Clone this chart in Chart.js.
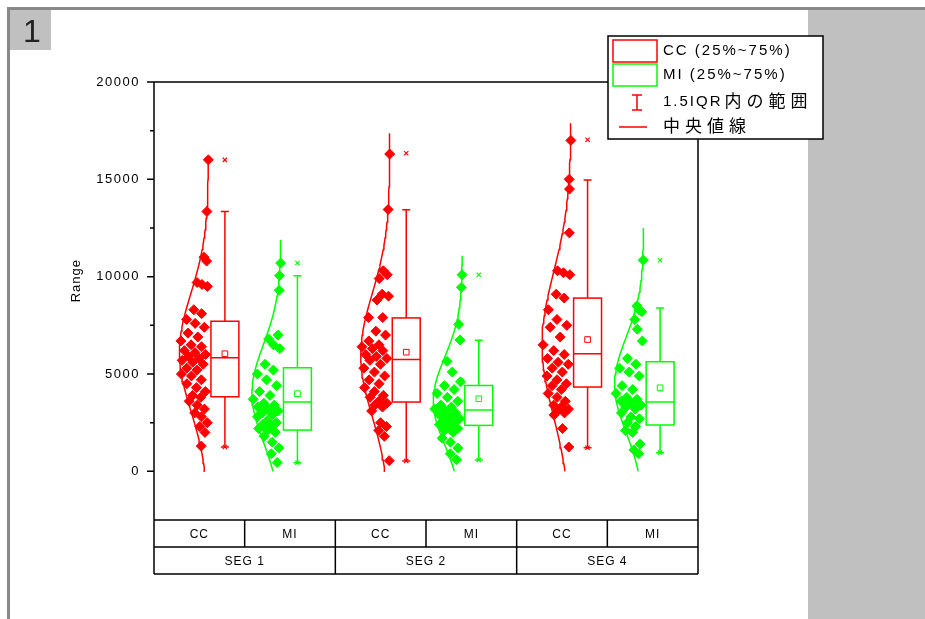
<!DOCTYPE html>
<html>
<head>
<meta charset="utf-8">
<script src="https://cdn.jsdelivr.net/npm/chart.js@4.4.0/dist/chart.umd.min.js"></script>
<style>
	html, body { margin: 0; padding: 0; background: #fff; }
</style>
</head>
<body>
<canvas id="myChart" width="925" height="619"></canvas>
<script>
// Categories
const segments = ['SEG 1', 'SEG 2', 'SEG 4'];
const groups = ['CC', 'MI'];
const yTicks = [0, 5000, 10000, 15000, 20000];

// Raw points (one array per box)
const ccSeg1 = [16000, 13350, 11000, 10800, 9700, 9600, 9500, 8300, 8100, 7800, 7600, 7400, 7100, 6900, 6700, 6500, 6400, 6200, 6100, 6000, 5900, 5800, 5700, 5600, 5500, 5300, 5200, 5000, 4900, 4700, 4500, 4300, 4100, 3900, 3800, 3600, 3400, 3200, 3000, 2800, 2500, 2300, 2000, 1300];
const miSeg1 = [10700, 10050, 9300, 7000, 6800, 6500, 6300, 5500, 5200, 5000, 4700, 4400, 4100, 3900, 3700, 3500, 3400, 3300, 3200, 3100, 3000, 2900, 2800, 2600, 2500, 2400, 2300, 2200, 2100, 2000, 1800, 1500, 1200, 900, 450];
const ccSeg2 = [16300, 13450, 10300, 10100, 9900, 9100, 9000, 8800, 7900, 7900, 7200, 7000, 6700, 6500, 6400, 6300, 6200, 6000, 5900, 5800, 5700, 5500, 5300, 5100, 4900, 4700, 4500, 4300, 4100, 3900, 3800, 3600, 3500, 3400, 3300, 3100, 2500, 2300, 2100, 1800, 550];
const miSeg2 = [10100, 9450, 7550, 6750, 5650, 5100, 4600, 4400, 4200, 4000, 3800, 3600, 3400, 3300, 3200, 3100, 3000, 2900, 2800, 2700, 2600, 2500, 2400, 2300, 2200, 2100, 2000, 1700, 1500, 1200, 900, 600];
const ccSeg4 = [17000, 15000, 14500, 12250, 10300, 10200, 10100, 9100, 8900, 8300, 7800, 7500, 7400, 6900, 6500, 6200, 6000, 5800, 5600, 5500, 5300, 5100, 4900, 4700, 4500, 4400, 4200, 4000, 3800, 3600, 3400, 3300, 3200, 3100, 3000, 2900, 2200, 1250];
const miSeg4 = [10850, 8500, 8300, 8200, 7800, 7300, 6700, 5800, 5500, 5300, 5100, 4900, 4400, 4200, 4000, 3800, 3700, 3600, 3500, 3400, 3300, 3200, 3000, 2800, 2700, 2500, 2300, 2100, 2000, 1400, 1100, 900];

// Box statistics per segment (SEG 1, SEG 2, SEG 4)
const ccQ1 = [3830, 3560, 4330];
const ccMedian = [5830, 5740, 6040];
const ccQ3 = [7710, 7880, 8900];
const ccMean = [6040, 6120, 6770];
const ccWhiskLow = [1250, 530, 1210];
const ccWhiskHigh = [13350, 13440, 14970];
const ccMax = [16000, 16340, 17030];
const ccCurveTop = [16000, 17370, 17880];

const miQ1 = [2120, 2360, 2380];
const miMedian = [3560, 3150, 3560];
const miQ3 = [5320, 4410, 5630];
const miMean = [3990, 3730, 4290];
const miWhiskLow = [440, 580, 960];
const miWhiskHigh = [10050, 6740, 8390];
const miMax = [10700, 10100, 10840];
const miCurveTop = [11900, 11080, 12500];

const legendLabels = ['CC (25%~75%)', 'MI (25%~75%)', '1.5IQR', '内の範囲', '中央値線'];

const series = [
	{ name: 'CC', color: '#ff0000', values: [ccSeg1, ccSeg2, ccSeg4], q1: ccQ1, med: ccMedian, q3: ccQ3, mean: ccMean, lo: ccWhiskLow, hi: ccWhiskHigh, max: ccMax, top: ccCurveTop, offset: 0.3 },
	{ name: 'MI', color: '#00ff00', values: [miSeg1, miSeg2, miSeg4], q1: miQ1, med: miMedian, q3: miQ3, mean: miMean, lo: miWhiskLow, hi: miWhiskHigh, max: miMax, top: miCurveTop, offset: 0.7 },
];

const LAT = '"Liberation Sans", Arial, sans-serif';
const CJK = '"Noto Sans CJK JP", sans-serif';
const CURVE_W = 0.16; // peak width of the half distribution curve, x units
const BOX_C = 0.091; // box centre relative to curve baseline
const BOX_HW = 0.077;
const ROW_H = 27; // height of one row of the category table

function meanSd(arr) {
	let m = arr.reduce((a, b) => a + b, 0) / arr.length;
	let sd = Math.sqrt(arr.reduce((a, b) => a + (b - m) * (b - m), 0) / (arr.length - 1));
	return { m, sd };
}

let datasets = [];
series.forEach((s) => {
	segments.forEach((seg, i) => {
		let base = i + s.offset;
		let vals = s.values[i];
		let { m, sd } = meanSd(vals);
		let width = (v) => CURVE_W * Math.exp(-0.5 * Math.pow((v - m) / sd, 2));

		// normal distribution curve (half violin)
		let curve = [];
		for (let v = 0; v < s.top[i]; v += 200) curve.push({ x: base - width(v), y: v });
		curve.push({ x: base - width(s.top[i]), y: s.top[i] });
		datasets.push({
			type: 'line', data: curve, borderColor: s.color, borderWidth: 1.5,
			pointRadius: 0, tension: 0, fill: false, order: 4,
		});

		// data points, spread inside the curve
		let pts = vals.map((v, k) => {
			let u = (k * 0.6180339887 + 0.31) % 1;
			return { x: base - (0.05 + 0.95 * u) * width(v), y: v };
		});
		datasets.push({
			type: 'scatter', data: pts, pointStyle: 'rectRot', pointRadius: 5,
			backgroundColor: s.color, borderColor: s.color, borderWidth: 1, order: 3,
		});

		// mean square and min / max crosses
		datasets.push({
			type: 'scatter', data: [{ x: base + BOX_C, y: s.mean[i] }], pointStyle: 'rect', pointRadius: 4,
			backgroundColor: '#fff', borderColor: s.color, borderWidth: 1, order: 1,
		});
		datasets.push({
			type: 'scatter', data: [{ x: base + BOX_C, y: s.max[i] }, { x: base + BOX_C, y: s.lo[i] }],
			pointStyle: 'crossRot', pointRadius: 3, borderColor: s.color, borderWidth: 1.2, order: 1,
		});
	});
});

// page decoration drawn behind the chart
const pagePlugin = {
	id: 'page',
	beforeDraw(chart) {
		let ctx = chart.ctx;
		ctx.save();
		ctx.fillStyle = '#fff';
		ctx.fillRect(0, 0, 925, 619);
		ctx.fillStyle = '#c0c0c0';
		ctx.fillRect(808, 10, 117, 609);
		ctx.fillStyle = '#888';
		ctx.fillRect(7, 7, 918, 3);
		ctx.fillRect(7, 7, 3, 612);
		ctx.fillStyle = '#c0c0c0';
		ctx.fillRect(10, 10, 41, 40);
		ctx.fillStyle = '#222';
		ctx.font = '32px ' + LAT;
		ctx.textAlign = 'center';
		ctx.textBaseline = 'middle';
		ctx.fillText('1', 32, 33);
		ctx.restore();
	},
};

// boxes, whiskers and medians
const boxPlugin = {
	id: 'boxes',
	afterDatasetsDraw(chart) {
		let { ctx, scales: { x, y } } = chart;
		ctx.save();
		ctx.lineWidth = 1.5;
		series.forEach((s) => {
			ctx.strokeStyle = s.color;
			segments.forEach((seg, i) => {
				let c = i + s.offset + BOX_C;
				let xl = x.getPixelForValue(c - BOX_HW), xr = x.getPixelForValue(c + BOX_HW), xc = x.getPixelForValue(c);
				let yq1 = y.getPixelForValue(s.q1[i]), yq3 = y.getPixelForValue(s.q3[i]);
				ctx.strokeRect(xl, yq3, xr - xl, yq1 - yq3);
				let ym = y.getPixelForValue(s.med[i]);
				ctx.beginPath();
				ctx.moveTo(xl, ym); ctx.lineTo(xr, ym);
				let yh = y.getPixelForValue(s.hi[i]), ylo = y.getPixelForValue(s.lo[i]);
				ctx.moveTo(xc, yq3); ctx.lineTo(xc, yh);
				ctx.moveTo(xc - 4, yh); ctx.lineTo(xc + 4, yh);
				ctx.moveTo(xc, yq1); ctx.lineTo(xc, ylo);
				ctx.moveTo(xc - 4, ylo); ctx.lineTo(xc + 4, ylo);
				ctx.stroke();
			});
		});
		ctx.restore();
	},
};

// frame, y ticks, category table and legend
const framePlugin = {
	id: 'frame',
	afterDraw(chart) {
		let { ctx, chartArea: a, scales: { x, y } } = chart;
		let rowMid = a.bottom + ROW_H, tBot = a.bottom + 2 * ROW_H;
		ctx.save();
		ctx.strokeStyle = '#000';
		ctx.lineWidth = 1.5;
		ctx.beginPath();
		ctx.moveTo(a.left, a.top); ctx.lineTo(a.right, a.top);
		ctx.moveTo(a.left, a.top); ctx.lineTo(a.left, tBot);
		ctx.moveTo(a.right, a.top); ctx.lineTo(a.right, tBot);
		[a.bottom, rowMid, tBot].forEach((py) => { ctx.moveTo(a.left, py); ctx.lineTo(a.right, py); });
		segments.forEach((seg, i) => {
			let px = x.getPixelForValue(i + 0.5);
			ctx.moveTo(px, a.bottom); ctx.lineTo(px, rowMid);
			if (i > 0) {
				px = x.getPixelForValue(i);
				ctx.moveTo(px, a.bottom); ctx.lineTo(px, tBot);
			}
		});
		// y ticks
		yTicks.forEach((v) => {
			let py = y.getPixelForValue(v);
			ctx.moveTo(a.left - 7, py); ctx.lineTo(a.left, py);
			if (v < 20000) {
				let pm = y.getPixelForValue(v + 2500);
				ctx.moveTo(a.left - 4, pm); ctx.lineTo(a.left, pm);
			}
		});
		ctx.stroke();

		ctx.fillStyle = '#000';
		ctx.textBaseline = 'middle';
		ctx.font = '13px ' + LAT;
		ctx.letterSpacing = '1.5px';
		ctx.textAlign = 'right';
		yTicks.forEach((v) => ctx.fillText(String(v), a.left - 14, y.getPixelForValue(v)));

		ctx.textAlign = 'center';
		ctx.font = '12px ' + LAT;
		ctx.letterSpacing = '1px';
		segments.forEach((seg, i) => {
			groups.forEach((g, j) => ctx.fillText(g, x.getPixelForValue(i + 0.25 + j * 0.5), (a.bottom + rowMid) / 2 + 1));
			ctx.fillText(seg, x.getPixelForValue(i + 0.5), (rowMid + tBot) / 2 + 1);
		});

		ctx.save();
		ctx.translate(76, y.getPixelForValue(10000) + 4);
		ctx.rotate(-Math.PI / 2);
		ctx.font = '13px ' + LAT;
		ctx.fillText('Range', 0, 0);
		ctx.restore();

		// legend
		ctx.fillStyle = '#fff';
		ctx.fillRect(608, 36, 215, 103);
		ctx.strokeRect(608, 36, 215, 103);
		ctx.strokeStyle = series[0].color;
		ctx.strokeRect(613, 40, 44, 22);
		ctx.strokeStyle = series[1].color;
		ctx.strokeRect(613, 64, 44, 22);
		ctx.strokeStyle = series[0].color;
		ctx.beginPath();
		ctx.moveTo(637, 95); ctx.lineTo(637, 110);
		ctx.moveTo(632, 95); ctx.lineTo(642, 95);
		ctx.moveTo(632, 110); ctx.lineTo(642, 110);
		ctx.moveTo(619, 127); ctx.lineTo(647, 127);
		ctx.stroke();

		ctx.fillStyle = '#000';
		ctx.textAlign = 'left';
		ctx.font = '15px ' + LAT;
		ctx.letterSpacing = '2px';
		ctx.fillText(legendLabels[0], 663, 51);
		ctx.fillText(legendLabels[1], 663, 75);
		ctx.fillText(legendLabels[2], 663, 102);
		let w = ctx.measureText(legendLabels[2]).width;
		ctx.font = '17px ' + CJK;
		ctx.letterSpacing = '5px';
		ctx.fillText(legendLabels[3], 663 + w + 2, 101);
		ctx.fillText(legendLabels[4], 663, 126);
		ctx.restore();
	},
};

let ctx = document.getElementById('myChart').getContext('2d');
new Chart(ctx, {
	data: { datasets: datasets },
	options: {
		responsive: false,
		animation: false,
		devicePixelRatio: 1,
		layout: { padding: { left: 0, right: 227, top: 82, bottom: 99 } },
		plugins: { legend: { display: false }, tooltip: { enabled: false } },
		scales: {
			x: { type: 'linear', min: 0, max: 3, display: false },
			y: {
				type: 'linear', min: -2500, max: 20000,
				ticks: { display: false },
				grid: { display: false },
				border: { display: false },
				afterFit: (scale) => { scale.width = 154; },
			},
		},
	},
	plugins: [pagePlugin, boxPlugin, framePlugin],
});
</script>
</body>
</html>
